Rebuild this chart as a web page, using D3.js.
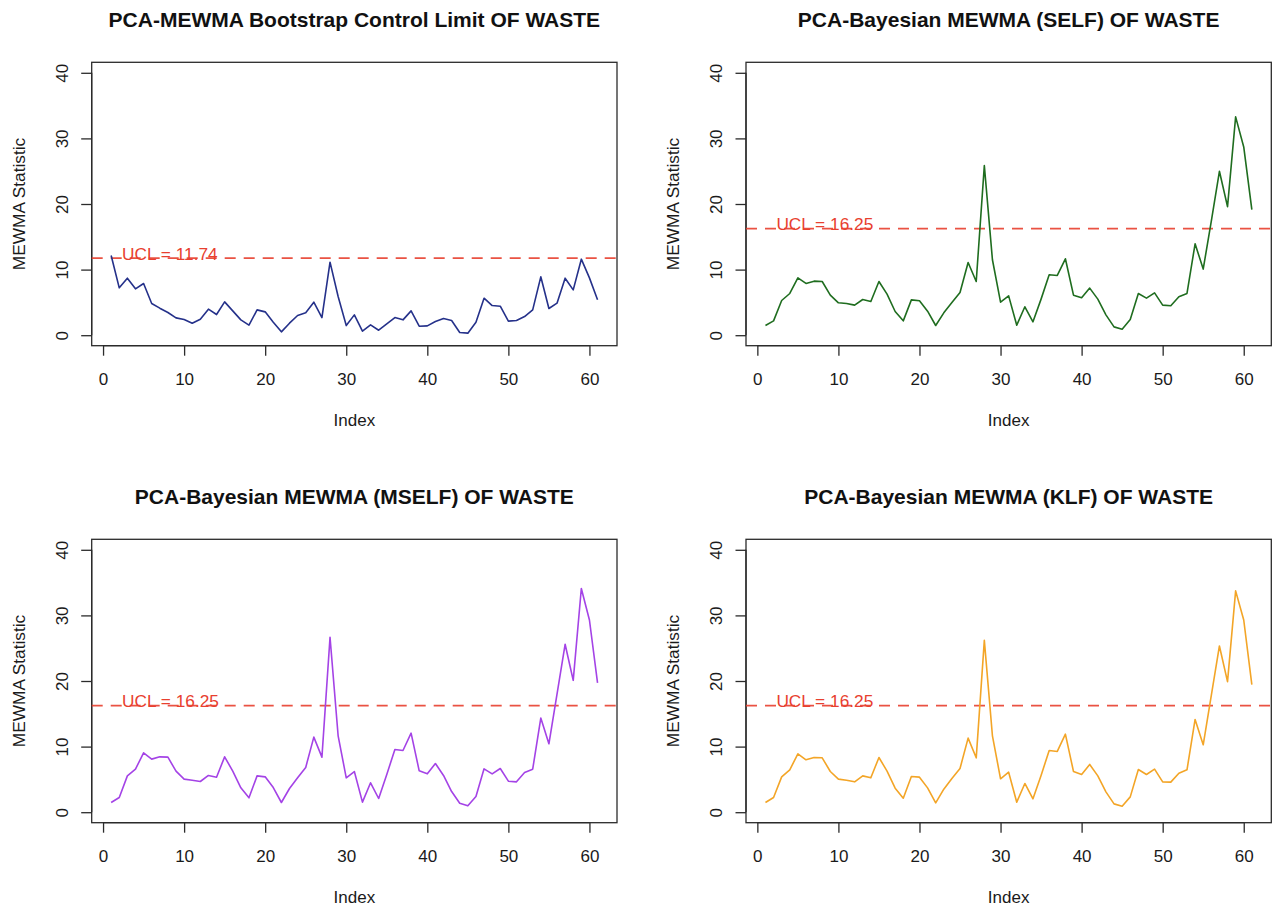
<!DOCTYPE html>
<html>
<head>
<meta charset="utf-8">
<script src="https://cdn.jsdelivr.net/npm/d3@7"></script>
<style>
  html, body { margin: 0; padding: 0; background: #fff; }
  svg { display: block; font-family: "Liberation Sans", Arial, Helvetica, sans-serif; }
</style>
</head>
<body>
<svg id="chart" width="1274" height="906"></svg>
<script>
// ---------- data ----------
const titles = [
  "PCA-MEWMA Bootstrap Control Limit OF WASTE",
  "PCA-Bayesian MEWMA (SELF) OF WASTE",
  "PCA-Bayesian MEWMA (MSELF) OF WASTE",
  "PCA-Bayesian MEWMA (KLF) OF WASTE"
];
const uclValues = [11.74, 16.25, 16.25, 16.25];
const uclLabels = ["UCL = 11.74", "UCL = 16.25", "UCL = 16.25", "UCL = 16.25"];
const xTicks = [0, 10, 20, 30, 40, 50, 60];
const yTicks = [0, 10, 20, 30, 40];
const xLabel = "Index";
const yLabel = "MEWMA Statistic";

const bootstrapSeries = [
  12.15, 7.22, 8.69, 7.07, 7.88, 4.83, 4.12, 3.46, 2.64, 2.39,
  1.83, 2.44, 3.97, 3.15, 5.08, 3.71, 2.34, 1.53, 3.86, 3.56,
  1.98, 0.51, 1.83, 3.00, 3.41, 5.03, 2.69, 11.13, 5.90, 1.47,
  3.10, 0.61, 1.58, 0.76, 1.73, 2.69, 2.34, 3.71, 1.37, 1.42,
  2.08, 2.54, 2.24, 0.41, 0.31, 1.98, 5.64, 4.52, 4.42, 2.14,
  2.24, 2.85, 3.86, 8.90, 4.07, 4.88, 8.69, 6.91, 11.59, 8.74,
  5.39
];
const selfSeries = [
  1.48, 2.19, 5.29, 6.36, 8.75, 7.89, 8.24, 8.19, 6.10, 4.94,
  4.83, 4.58, 5.44, 5.14, 8.19, 6.26, 3.61, 2.19, 5.39, 5.24,
  3.66, 1.48, 3.41, 4.99, 6.51, 11.09, 8.19, 25.85, 11.50, 5.04,
  6.00, 1.53, 4.33, 2.04, 5.50, 9.21, 9.11, 11.65, 6.10, 5.70,
  7.18, 5.50, 3.10, 1.27, 0.92, 2.39, 6.36, 5.65, 6.46, 4.58,
  4.48, 5.85, 6.36, 13.94, 10.08, 17.40, 24.99, 19.60, 33.28, 28.70,
  19.14
];
const mselfSeries = [
  1.48, 2.24, 5.54, 6.56, 9.05, 8.09, 8.44, 8.39, 6.26, 5.04,
  4.88, 4.68, 5.60, 5.34, 8.44, 6.26, 3.71, 2.19, 5.54, 5.39,
  3.76, 1.48, 3.61, 5.24, 6.82, 11.45, 8.39, 26.66, 11.65, 5.24,
  6.20, 1.53, 4.48, 2.09, 5.75, 9.56, 9.41, 12.05, 6.31, 5.85,
  7.42, 5.60, 3.15, 1.37, 0.97, 2.39, 6.61, 5.85, 6.66, 4.73,
  4.63, 6.05, 6.56, 14.35, 10.43, 18.00, 25.60, 20.10, 34.10, 29.30,
  19.70
];
const klfSeries = [
  1.48, 2.24, 5.39, 6.46, 8.90, 7.99, 8.34, 8.29, 6.20, 5.04,
  4.88, 4.63, 5.54, 5.24, 8.34, 6.26, 3.66, 2.14, 5.44, 5.34,
  3.71, 1.42, 3.51, 5.14, 6.66, 11.29, 8.29, 26.20, 11.65, 5.09,
  6.10, 1.53, 4.38, 2.04, 5.60, 9.41, 9.26, 11.90, 6.20, 5.75,
  7.28, 5.54, 3.10, 1.27, 0.92, 2.34, 6.51, 5.75, 6.56, 4.63,
  4.58, 5.95, 6.46, 14.14, 10.28, 17.80, 25.34, 19.90, 33.74, 29.30,
  19.44
];
const allSeries = [bootstrapSeries, selfSeries, mselfSeries, klfSeries];

// ---------- styles ----------
const lineColors = ["#25318a", "#1f6d1f", "#a443e6", "#f3a527"];
const uclColor = "#e8402f";

// ---------- layout ----------
const colOffsets = [0, 654.3];
const rowOffsets = [0, 477];
const box = { left: 91.7, right: 617, top: 62.3, bottom: 345.7 };

const svg = d3.select("#chart");

allSeries.forEach((series, p) => {
  const ox = colOffsets[p % 2];
  const oy = rowOffsets[Math.floor(p / 2)];
  const g = svg.append("g").attr("transform", `translate(${ox},${oy})`);

  const x = d3.scaleLinear().domain([-1.4, 63.4]).range([box.left, box.right]);
  const y = d3.scaleLinear().domain([-1.6, 41.6]).range([box.bottom, box.top]);

  // plot box
  g.append("rect")
    .attr("x", box.left).attr("y", box.top)
    .attr("width", box.right - box.left).attr("height", box.bottom - box.top)
    .attr("fill", "none").attr("stroke", "#2b2b2b").attr("stroke-width", 1.3);

  // x axis
  const xAxis = d3.axisBottom(x).tickValues(xTicks).tickSize(10).tickPadding(0).tickFormat(d3.format("d"));
  const xg = g.append("g").attr("transform", `translate(0,${box.bottom})`).call(xAxis);
  xg.select(".domain").attr("d", `M${x(xTicks[0])},0H${x(xTicks[xTicks.length - 1])}`)
    .attr("stroke", "#2b2b2b").attr("stroke-width", 1.3);
  xg.selectAll(".tick line").attr("stroke", "#2b2b2b").attr("stroke-width", 1.3);
  xg.selectAll(".tick text")
    .attr("y", 39.7).attr("dy", null)
    .attr("font-size", 17).attr("fill", "#1a1a1a")
    .attr("font-family", "'Liberation Sans', Arial, sans-serif");

  // y axis
  const yAxis = d3.axisLeft(y).tickValues(yTicks).tickSize(10.5).tickFormat(d3.format("d"));
  const yg = g.append("g").attr("transform", `translate(${box.left},0)`).call(yAxis);
  yg.select(".domain").attr("d", `M0,${y(yTicks[0])}V${y(yTicks[yTicks.length - 1])}`)
    .attr("stroke", "#2b2b2b").attr("stroke-width", 1.3);
  yg.selectAll(".tick line").attr("stroke", "#2b2b2b").attr("stroke-width", 1.3);
  yg.selectAll(".tick text")
    .attr("x", null).attr("dy", null)
    .attr("transform", `translate(${68 - box.left},0) rotate(-90)`)
    .attr("text-anchor", "middle")
    .attr("font-size", 17).attr("fill", "#1a1a1a")
    .attr("font-family", "'Liberation Sans', Arial, sans-serif");

  // UCL line
  g.append("line")
    .attr("x1", box.left).attr("x2", box.right)
    .attr("y1", y(uclValues[p])).attr("y2", y(uclValues[p]))
    .attr("stroke", uclColor).attr("stroke-width", 1.8)
    .attr("stroke-dasharray", "11,8").attr("opacity", 0.9);

  // series line
  const line = d3.line().x((d, i) => x(i + 1)).y(d => y(d));
  g.append("path")
    .datum(series)
    .attr("d", line)
    .attr("fill", "none")
    .attr("stroke", lineColors[p])
    .attr("stroke-width", 1.6)
    .attr("stroke-linejoin", "round");

  // UCL label
  g.append("text")
    .attr("x", x(2.35)).attr("y", y(uclValues[p]) + 1.5)
    .attr("font-size", 17.3).attr("fill", uclColor)
    .text(uclLabels[p]);

  // title
  g.append("text")
    .attr("x", (box.left + box.right) / 2).attr("y", 27.3)
    .attr("text-anchor", "middle")
    .attr("font-size", 21).attr("font-weight", "bold").attr("fill", "#111")
    .text(titles[p]);

  // x label
  g.append("text")
    .attr("x", (box.left + box.right) / 2).attr("y", 426)
    .attr("text-anchor", "middle")
    .attr("font-size", 17).attr("fill", "#1a1a1a")
    .text(xLabel);

  // y label
  g.append("text")
    .attr("transform", `translate(25,${(box.top + box.bottom) / 2}) rotate(-90)`)
    .attr("text-anchor", "middle")
    .attr("font-size", 17.3).attr("fill", "#1a1a1a")
    .text(yLabel);
});
</script>
</body>
</html>
